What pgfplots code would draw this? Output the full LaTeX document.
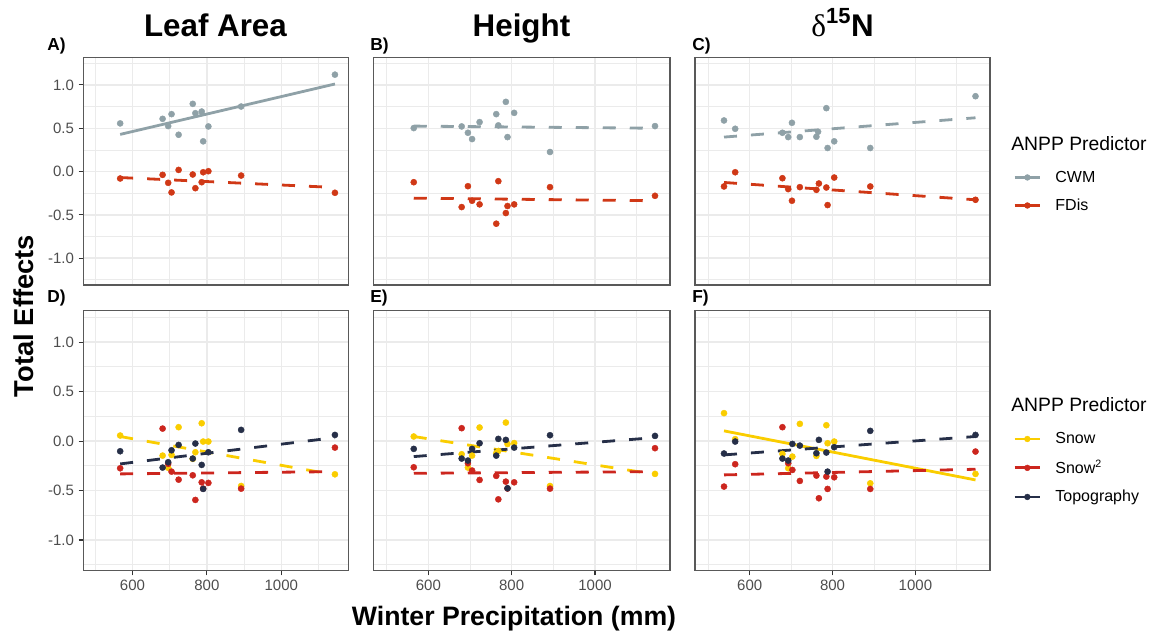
\documentclass[border=0pt]{standalone}
\usepackage{pgfplots}
\pgfplotsset{compat=1.18}
\usepackage{fontspec}
\setmainfont{Liberation Sans}
\newfontfamily\serifgreek{Liberation Serif}
\definecolor{cwm}{RGB}{143,161,167}
\definecolor{fdis}{RGB}{208,56,22}
\definecolor{snow}{RGB}{250,205,0}
\definecolor{snowsq}{RGB}{204,38,30}
\definecolor{topo}{RGB}{38,47,72}
\definecolor{gridmaj}{RGB}{235,235,235}
\definecolor{ticklab}{RGB}{77,77,77}
\pgfplotsset{
 panel/.style={
  scale only axis, xmin=468, xmax=1180, ymin=-1.31, ymax=1.315,
  xtick={600,800,1000}, ytick={-1,-0.5,0,0.5,1},
  minor xtick={500,700,900,1100}, minor ytick={-1.25,-0.75,-0.25,0.25,0.75,1.25},
  grid=both, major grid style={gridmaj, line width=1.1pt}, minor grid style={gridmaj, line width=0.55pt},
  axis line style={black!65, line width=0.8pt},
  tick align=outside, major tick length=3.5pt, minor tick length=0pt,
  xtick pos=bottom, ytick pos=left,
  tick style={black!80, line width=0.8pt},
  xticklabels={600,800,1000}, yticklabels={-1.0,-0.5,0.0,0.5,1.0},
  tick label style={font=\fontsize{11.25}{13}\selectfont, text=ticklab},
  clip=false, anchor=south west,
 },
 noxt/.style={xticklabels={}, xtick style={draw=none}},
 noyt/.style={yticklabels={}, ytick style={draw=none}},
 pts/.style={only marks, mark=*, mark size=2.3pt, color=#1, mark options={draw=#1, fill=#1, line width=0.3pt, solid}, forget plot},
 fit/.style={color=#1, line width=2.1pt, forget plot},
 dsh/.style={dash pattern=on 9.75pt off 10.5pt},
 leg/.style={legend cell align=left,
  legend style={at={(1.078,#1)}, anchor=west, draw=none, fill=none, inner sep=0pt,
   font=\fontsize{12}{14}\selectfont, row sep=11pt, column sep=10.5pt, nodes={inner sep=0pt}},
  legend image code/.code={\draw[mark repeat=2, mark phase=2, ##1] plot coordinates {(0pt,0pt) (9.5pt,0pt) (19pt,0pt)};}},
 li/.style={color=#1, line width=2.1pt, mark=*, mark size=2.2pt, mark options={fill=#1, draw=#1, line width=0.3pt}},
}
\begin{document}
\begin{tikzpicture}
\path[use as bounding box] (0,0) rectangle (870pt,-474.75pt);
% ---------------- A
\begin{axis}[panel, noxt, at={(62.5pt,-213.75pt)}, width=198.75pt, height=170.5pt]
\addplot[pts=cwm] coordinates {(567,0.556) (681,0.609) (696,0.525) (705,0.663) (724,0.425) (762,0.782) (769,0.674) (786,0.693) (790,0.349) (804,0.521) (892,0.751) (1144,1.119)};
\addplot[pts=fdis] coordinates {(567,-0.080) (681,-0.038) (696,-0.130) (705,-0.241) (724,0.019) (762,-0.034) (769,-0.192) (786,-0.123) (790,-0.008) (804,0.004) (892,-0.046) (1144,-0.245)};
\addplot[fit=cwm] coordinates {(567,0.429) (1144,1.011)};
\addplot[fit=fdis, dsh] coordinates {(567,-0.069) (1144,-0.184)};
\end{axis}
% ---------------- B
\begin{axis}[panel, noxt, noyt, at={(280pt,-213.75pt)}, width=222.5pt, height=170.5pt]
\addplot[pts=cwm] coordinates {(565,0.502) (680,0.521) (695,0.448) (705,0.375) (723,0.571) (763,0.663) (768,0.533) (786,0.805) (790,0.398) (806,0.678) (892,0.226) (1144,0.525)};
\addplot[pts=fdis] coordinates {(565,-0.123) (680,-0.410) (695,-0.169) (705,-0.337) (723,-0.379) (763,-0.602) (768,-0.111) (786,-0.479) (790,-0.398) (806,-0.379) (892,-0.180) (1144,-0.280)};
\addplot[fit=cwm, dsh] coordinates {(565,0.525) (1144,0.500)};
\addplot[fit=fdis, dsh] coordinates {(565,-0.307) (1144,-0.337)};
\end{axis}
% ---------------- C
\begin{axis}[panel, noxt, noyt, at={(521.25pt,-213.75pt)}, width=221.25pt, height=170.5pt, leg=0.411]
\addplot[pts=cwm] coordinates {(538,0.590) (565,0.494) (679,0.448) (693,0.398) (702,0.563) (721,0.398) (761,0.402) (765,0.460) (785,0.732) (788,0.272) (804,0.349) (891,0.272) (1145,0.870)};
\addplot[pts=fdis] coordinates {(538,-0.172) (565,-0.008) (679,-0.077) (693,-0.203) (702,-0.337) (721,-0.180) (761,-0.211) (767,-0.138) (785,-0.184) (788,-0.387) (804,-0.069) (891,-0.172) (1145,-0.326)};
\addplot[fit=cwm, dsh] coordinates {(538,0.398) (1145,0.621)};
\addplot[fit=fdis, dsh] coordinates {(538,-0.126) (1145,-0.326)};
\addlegendimage{li=cwm}\addlegendentry{CWM}
\addlegendimage{li=fdis}\addlegendentry{FDis}
\end{axis}
% ---------------- D
\begin{axis}[panel, at={(62.5pt,-428pt)}, width=198.75pt, height=194.8pt]
\addplot[pts=snow] coordinates {(567,0.056) (681,-0.147) (696,-0.27) (705,-0.140) (724,0.140) (762,-0.18) (769,-0.113) (786,0.180) (790,-0.005) (804,-0.005) (892,-0.454) (1144,-0.336)};
\addplot[pts=snowsq] coordinates {(567,-0.275) (681,0.126) (696,-0.23) (705,-0.309) (724,-0.390) (762,-0.346) (769,-0.595) (786,-0.417) (790,-0.48) (804,-0.423) (892,-0.481) (1144,-0.066)};
\addplot[pts=topo] coordinates {(567,-0.103) (681,-0.268) (696,-0.214) (705,-0.093) (724,-0.039) (762,-0.177) (769,-0.025) (786,-0.241) (790,-0.484) (804,-0.113) (892,0.113) (1144,0.062)};
\addplot[fit=snow, dsh] coordinates {(567,0.046) (1144,-0.342)};
\addplot[fit=snowsq, dsh] coordinates {(567,-0.332) (1144,-0.309)};
\addplot[fit=topo, dsh] coordinates {(567,-0.231) (1144,0.035)};
\end{axis}
% ---------------- E
\begin{axis}[panel, noyt, at={(280pt,-428pt)}, width=222.5pt, height=194.8pt]
\addplot[pts=snow] coordinates {(565,0.046) (680,-0.133) (695,-0.268) (705,-0.147) (723,0.137) (763,-0.123) (768,-0.10) (786,0.187) (790,-0.03) (806,-0.02) (892,-0.454) (1144,-0.332)};
\addplot[pts=snowsq] coordinates {(565,-0.265) (680,0.130) (695,-0.224) (705,-0.298) (723,-0.393) (763,-0.352) (768,-0.589) (786,-0.410) (790,-0.48) (806,-0.417) (892,-0.481) (1144,-0.072)};
\addplot[pts=topo] coordinates {(565,-0.079) (680,-0.177) (695,-0.197) (705,-0.079) (723,-0.022) (763,-0.147) (768,0.022) (786,0.012) (790,-0.477) (806,-0.066) (892,0.059) (1144,0.052)};
\addplot[fit=snow, dsh] coordinates {(565,0.046) (1144,-0.336)};
\addplot[fit=snowsq, dsh] coordinates {(565,-0.326) (1144,-0.309)};
\addplot[fit=topo, dsh] coordinates {(565,-0.157) (1144,0.035)};
\end{axis}
% ---------------- F
\begin{axis}[panel, noyt, at={(521.25pt,-428pt)}, width=221.25pt, height=194.8pt, leg=0.395]
\addplot[pts=snow] coordinates {(538,0.282) (565,0.019) (679,-0.13) (693,-0.275) (703,-0.157) (721,0.174) (761,-0.150) (785,0.160) (788,-0.022) (804,-0.005) (891,-0.427) (1145,-0.332)};
\addplot[pts=snowsq] coordinates {(538,-0.460) (565,-0.234) (679,0.140) (693,-0.224) (703,-0.292) (721,-0.403) (761,-0.349) (767,-0.578) (785,-0.359) (788,-0.484) (804,-0.366) (891,-0.484) (1145,-0.106)};
\addplot[pts=topo] coordinates {(538,-0.126) (565,-0.005) (679,-0.177) (693,-0.197) (703,-0.029) (721,-0.046) (761,-0.123) (767,0.012) (785,-0.116) (788,-0.309) (804,-0.062) (891,0.103) (1145,0.062)};
\addplot[fit=snow] coordinates {(538,0.103) (1145,-0.393)};
\addplot[fit=snowsq, dsh] coordinates {(538,-0.342) (1145,-0.285)};
\addplot[fit=topo, dsh] coordinates {(538,-0.140) (1145,0.046)};
\addlegendimage{li=snow}\addlegendentry{Snow}
\addlegendimage{li=snowsq}\addlegendentry{Snow\textsuperscript{2}}
\addlegendimage{li=topo}\addlegendentry{Topography}
\end{axis}
% ---------------- texts
\begin{scope}[every node/.style={inner sep=0pt}]
\node[anchor=base, font=\bfseries\fontsize{23.5}{27}\selectfont] at (161.6pt,-27pt) {Leaf Area};
\node[anchor=base, font=\bfseries\fontsize{23.5}{27}\selectfont] at (391.1pt,-27pt) {Height};
\node[anchor=base, font=\fontsize{23.5}{27}\selectfont] at (631.9pt,-27pt) {{\serifgreek δ}\textsuperscript{\bfseries 15}\textbf{N}};
\foreach \lab/\x/\y in {A)/35.25/-37.5, B)/277.5/-37.5, C)/519/-37.5, D)/35.25/-226.5, E)/277.5/-226.5, F)/519/-226.5}
  \node[anchor=base west, font=\bfseries\fontsize{13}{15}\selectfont] at (\x pt,\y pt) {\lab};
\node[anchor=base, rotate=90, font=\bfseries\fontsize{20.5}{24}\selectfont] at (24.75pt,-237pt) {Total Effects};
\node[anchor=base, font=\bfseries\fontsize{20}{24}\selectfont] at (385.5pt,-468.75pt) {Winter Precipitation (mm)};
\node[anchor=base west, font=\fontsize{14.5}{17}\selectfont] at (758.25pt,-112.5pt) {ANPP Predictor};
\node[anchor=base west, font=\fontsize{14.5}{17}\selectfont] at (758.25pt,-308.25pt) {ANPP Predictor};
\end{scope}
\end{tikzpicture}
\end{document}
